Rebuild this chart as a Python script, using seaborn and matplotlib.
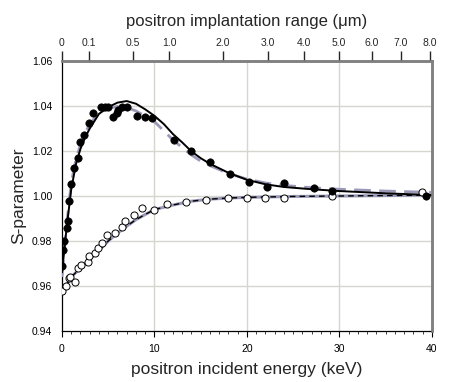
import numpy as np
import pandas as pd
import matplotlib
matplotlib.use("Agg")
import matplotlib.pyplot as plt
import seaborn as sns
from matplotlib.ticker import MultipleLocator, FixedLocator

# ---- data ----
e_filled = [0.03, 0.14, 0.25, 0.5, 0.6, 0.8, 0.97, 1.33, 1.77, 1.98, 2.4, 2.95, 3.3,
            4.2, 4.65, 5.0, 5.5, 5.9, 6.1, 6.45, 7.0, 8.1, 9.0, 9.7, 12.1, 14.0,
            16.0, 18.2, 20.2, 22.2, 24.0, 27.2, 29.2, 39.4]
s_filled = [0.969, 0.976, 0.980, 0.986, 0.989, 0.998, 1.0055, 1.0126, 1.0168, 1.0241,
            1.027, 1.0323, 1.037, 1.0394, 1.0394, 1.0397, 1.035, 1.037, 1.0382, 1.0394,
            1.0397, 1.0356, 1.0353, 1.0345, 1.0249, 1.020, 1.015, 1.0096, 1.0064,
            1.0041, 1.0059, 1.0037, 1.0024, 1.0001]

e_open = [0.03, 0.4, 0.76, 0.9, 1.4, 1.77, 2.1, 2.8, 2.95, 3.6, 3.9, 4.3, 4.9, 5.7,
          6.45, 6.8, 7.8, 8.7, 10.0, 11.4, 13.4, 15.6, 17.9, 20.0, 22.0, 24.0, 29.2, 38.9]
s_open = [0.9578, 0.960, 0.9634, 0.964, 0.9619, 0.9678, 0.9693, 0.9708, 0.9733, 0.9748,
          0.9767, 0.979, 0.9827, 0.9837, 0.9861, 0.989, 0.9916, 0.9945, 0.9938, 0.9964,
          0.9975, 0.9982, 0.999, 0.9993, 0.9993, 0.9993, 1.000, 1.0016]

e_fit1 = [0, 0.5, 1, 1.5, 2, 2.5, 3, 4, 5, 6, 7, 8, 9, 10, 11, 12, 13, 14, 15, 16,
          18, 20, 22, 24, 27, 30, 35, 40]
s_fit1_solid = [0.966, 0.986, 1.003, 1.014, 1.021, 1.026, 1.030, 1.0365, 1.0395, 1.0415,
                1.0422, 1.041, 1.0385, 1.0356, 1.032, 1.0275, 1.0238, 1.0198, 1.0168,
                1.0143, 1.0103, 1.0072, 1.0052, 1.0040, 1.003, 1.0022, 1.0012, 1.0004]
s_fit1_dashed = [0.964, 0.987, 1.006, 1.016, 1.023, 1.028, 1.032, 1.037, 1.039, 1.0398,
                 1.0393, 1.0378, 1.0355, 1.033, 1.029, 1.0249, 1.0215, 1.0182, 1.0155,
                 1.0135, 1.0100, 1.0075, 1.0058, 1.0047, 1.0037, 1.003, 1.0022, 1.0016]

e_fit2 = [0, 1, 2, 3, 4, 5, 6, 7, 8, 9, 10, 12, 14, 16, 18, 20, 25, 30, 35, 40]
s_fit2 = [0.957, 0.964, 0.968, 0.9718, 0.9758, 0.980, 0.9835, 0.9866, 0.9895, 0.9918,
          0.9940, 0.996, 0.9977, 0.9986, 0.9991, 0.9994, 0.9998, 1.0, 1.0002, 1.0004]

x_ticks = [0, 10, 20, 30, 40]
y_ticks = [0.94, 0.96, 0.98, 1.00, 1.02, 1.04, 1.06]
top_tick_labels = ["0", "0.1", "0.5", "1.0", "2.0", "3.0", "4.0", "5.0", "6.0", "7.0", "8.0"]
top_tick_energy = [0, 2.9, 7.65, 11.6, 17.4, 22.3, 26.2, 29.9, 33.5, 36.6, 39.8]

# ---- style ----
sns.set_style("white")
plt.rcParams["font.family"] = ["Liberation Sans", "DejaVu Sans"]

fig = plt.figure(figsize=(4.52, 3.82), dpi=100)
ax = fig.add_axes([62 / 452, 1 - 331 / 382, 370 / 452, 270 / 382])

grid_c = "#d6d6ce"
for v in [10, 20, 30]:
    ax.axvline(v, color=grid_c, lw=1.0, zorder=0)
for v in [0.96, 0.98, 1.00, 1.02, 1.04]:
    ax.axhline(v, color=grid_c, lw=1.0, zorder=0)

fit_blue = "#9a9ab8"

df1 = pd.DataFrame({"E": e_fit1, "solid": s_fit1_solid, "dashed": s_fit1_dashed})
df2 = pd.DataFrame({"E": e_fit2, "S": s_fit2})
dfp1 = pd.DataFrame({"E": e_filled, "S": s_filled})
dfp2 = pd.DataFrame({"E": e_open, "S": s_open})

# open series fits
sns.lineplot(data=df2, x="E", y="S", ax=ax, color=fit_blue, lw=2.2, zorder=2)
sns.lineplot(data=df2, x="E", y="S", ax=ax, color="black", lw=1.0,
             linestyle=(0, (4, 3)), zorder=3)
# filled series fits
sns.lineplot(data=df1, x="E", y="dashed", ax=ax, color=fit_blue, lw=2.0,
             linestyle=(0, (6, 3)), zorder=3)
sns.lineplot(data=df1, x="E", y="solid", ax=ax, color="black", lw=1.4, zorder=3)

sns.scatterplot(data=dfp2, x="E", y="S", ax=ax, s=26, facecolor="white",
                edgecolor="black", linewidth=0.7, zorder=4)
sns.scatterplot(data=dfp1, x="E", y="S", ax=ax, s=28, color="black",
                edgecolor="black", linewidth=0.5, zorder=5)

ax.set_xlim(0, 40)
ax.set_ylim(0.94, 1.06)
ax.set_xticks(x_ticks)
ax.set_yticks(y_ticks)
ax.set_yticklabels([f"{v:.2f}" for v in y_ticks])
ax.xaxis.set_minor_locator(MultipleLocator(1))
ax.yaxis.set_minor_locator(MultipleLocator(0.005))
ax.tick_params(axis="both", which="major", direction="out", length=4, width=0.8,
               labelsize=7.5, colors="black", pad=3)
ax.tick_params(axis="both", which="minor", direction="out", length=2, width=0.6)
ax.tick_params(axis="x", which="major", pad=5)

for side in ["left", "bottom"]:
    ax.spines[side].set_color("black")
    ax.spines[side].set_linewidth(0.9)
for side in ["top", "right"]:
    ax.spines[side].set_color("#808080")
    ax.spines[side].set_linewidth(1.8)

ax.set_xlabel("positron incident energy (keV)", fontsize=12.5, labelpad=6)
ax.set_ylabel("S-parameter", fontsize=12.5, labelpad=4)

top = ax.twiny()
top.set_xlim(ax.get_xlim())
top.xaxis.set_major_locator(FixedLocator(top_tick_energy))
top.set_xticklabels(top_tick_labels)
top.tick_params(axis="x", which="major", direction="out", length=7, width=1.0,
                labelsize=7.5, pad=2)
top.set_xlabel("positron implantation range (\u03bcm)", fontsize=12, labelpad=9)
for side in ["top", "right"]:
    top.spines[side].set_color("#808080")
    top.spines[side].set_linewidth(1.8)
top.spines["left"].set_visible(False)
top.spines["bottom"].set_visible(False)

fig.savefig("out.png", dpi=100)
